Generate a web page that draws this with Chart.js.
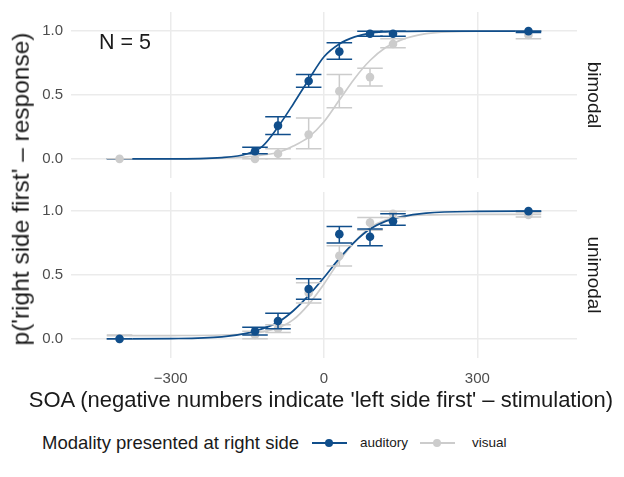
<!DOCTYPE html>
<html>
<head>
<meta charset="utf-8">
<script src="https://cdn.jsdelivr.net/npm/chart.js@4.4.1/dist/chart.umd.min.js"></script>
<style>
  body { margin: 0; background: #fff; font-family: "Liberation Sans", Arial, sans-serif; }
  #wrap { position: relative; width: 624px; height: 477px; overflow: hidden; }
  canvas { position: absolute; left: 0; }
  .lbl { position: absolute; white-space: nowrap; color: #1a1a1a; line-height: 1; }
  .key { position: absolute; height: 2px; width: 35px; }
  .dot { position: absolute; width: 8px; height: 8px; border-radius: 50%; }
</style>
</head>
<body>
<div id="wrap">
  <canvas id="top" width="624" height="186" style="top:0"></canvas>
  <canvas id="bottom" width="624" height="215" style="top:180px"></canvas>

  <div class="lbl" style="left:21px; top:189px; font-size:24.5px; transform:translate(-50%,-50%) rotate(-90deg)">p('right side first' – response)</div>
  <div class="lbl" style="left:594px; top:95px; font-size:19px; transform:translate(-50%,-50%) rotate(90deg)">bimodal</div>
  <div class="lbl" style="left:594px; top:275px; font-size:19px; transform:translate(-50%,-50%) rotate(90deg)">unimodal</div>
  <div class="lbl" style="left:99px; top:43px; font-size:21.5px; transform:translateY(-50%)">N = 5</div>
  <div class="lbl" style="left:321px; top:400px; font-size:22px; transform:translate(-50%,-50%)">SOA (negative numbers indicate 'left side first' – stimulation)</div>

  <div class="lbl" style="left:42px; top:443px; font-size:18.5px; transform:translateY(-50%)">Modality presented at right side</div>
  <div class="key" style="left:312px; top:442px; background:#104e8b"></div>
  <div class="dot" style="left:325px; top:439px; background:#104e8b"></div>
  <div class="lbl" style="left:360px; top:443px; font-size:13.5px; transform:translateY(-50%)">auditory</div>
  <div class="key" style="left:420px; top:442px; background:#cccccc"></div>
  <div class="dot" style="left:433px; top:439px; background:#cccccc"></div>
  <div class="lbl" style="left:472px; top:443px; font-size:13.5px; transform:translateY(-50%)">visual</div>
</div>

<script>
// SOA values of the measured points
const soa = [-400, -135, -90, -30, 30, 90, 135, 400];

// bimodal panel
const biAudMean = [null, 0.06, 0.26, 0.61, 0.84, 0.98, 0.98, 1.0];
const biAudLo   = [null, 0.04, 0.19, 0.56, 0.78, 0.96, 0.96, 0.99];
const biAudHi   = [null, 0.09, 0.33, 0.66, 0.91, 1.0, 1.0, 1.0];
const biVisMean = [0.0, 0.0, 0.04, 0.19, 0.53, 0.64, 0.90, 0.97];
const biVisLo   = [0.0, 0.0, 0.0, 0.08, 0.40, 0.57, 0.87, 0.94];
const biVisHi   = [0.0, 0.0, 0.08, 0.32, 0.66, 0.71, 0.94, 1.0];

// unimodal panel
const uniAudMean = [0.0, 0.06, 0.14, 0.39, 0.82, 0.80, 0.92, 1.0];
const uniAudLo   = [0.0, 0.03, 0.08, 0.31, 0.75, 0.73, 0.89, 1.0];
const uniAudHi   = [0.0, 0.09, 0.20, 0.47, 0.88, 0.86, 0.98, 1.0];
const uniVisMean = [0.0, 0.03, 0.08, 0.36, 0.65, 0.91, 0.98, 0.97];
const uniVisLo   = [0.0, 0.0, 0.05, 0.28, 0.57, 0.85, 0.95, 0.955];
const uniVisHi   = [0.03, 0.06, 0.11, 0.44, 0.73, 0.95, 1.0, 0.99];

// fitted curves
const fitSoa    = [-425, -300, -200, -150, -120, -90, -60, -30, 0, 30, 60, 90, 120, 150, 200, 300, 425];
const biAudFit  = [0, 0, 0.01, 0.04, 0.10, 0.25, 0.43, 0.62, 0.80, 0.90, 0.955, 0.985, 0.995, 0.998, 1, 1, 1];
const biVisFit  = [0, 0, 0.005, 0.015, 0.03, 0.05, 0.10, 0.17, 0.29, 0.46, 0.63, 0.77, 0.87, 0.93, 0.98, 1, 1];
const uniAudFit = [0, 0.002, 0.015, 0.045, 0.08, 0.13, 0.22, 0.34, 0.48, 0.63, 0.76, 0.86, 0.92, 0.955, 0.985, 0.998, 1];
const uniVisFit = [0.025, 0.026, 0.03, 0.04, 0.055, 0.085, 0.15, 0.27, 0.43, 0.61, 0.76, 0.87, 0.93, 0.955, 0.97, 0.975, 0.975];

const xTicks = [-300, 0, 300];
const yTicks = [0, 0.5, 1];

const blue = '#104e8b';
const grey = '#cccccc';
const family = '"Liberation Sans", Arial, sans-serif';
const capHalf = 25;

const pts = (xs, ys) => xs.map((x, i) => ({ x: x, y: ys[i] }));

const errorBars = {
    id: 'errorBars',
    beforeDatasetDraw(chart, args) {
        const ds = chart.data.datasets[args.index];
        if (!ds.errLo) return;
        const { ctx } = chart;
        const x = chart.scales.x, y = chart.scales.y;
        ctx.save();
        ctx.strokeStyle = ds.backgroundColor;
        ctx.lineWidth = 1.5;
        ds.data.forEach((p, i) => {
            if (ds.errLo[i] == null) return;
            const px = x.getPixelForValue(p.x);
            const x0 = x.getPixelForValue(p.x - capHalf);
            const x1 = x.getPixelForValue(p.x + capHalf);
            const yl = y.getPixelForValue(ds.errLo[i]);
            const yh = y.getPixelForValue(ds.errHi[i]);
            ctx.beginPath();
            ctx.moveTo(px, yl); ctx.lineTo(px, yh);
            ctx.moveTo(x0, yl); ctx.lineTo(x1, yl);
            ctx.moveTo(x0, yh); ctx.lineTo(x1, yh);
            ctx.stroke();
        });
        ctx.restore();
    }
};

function makePanel(id, showX, padBottom, xHeight, aud, vis) {
    return new Chart(document.getElementById(id), {
        type: 'scatter',
        data: {
            datasets: [
                {
                    label: 'auditory',
                    data: pts(soa, aud.mean),
                    errLo: aud.lo, errHi: aud.hi,
                    backgroundColor: blue,
                    pointRadius: 4.3,
                    pointBorderWidth: 0,
                    order: 0
                },
                {
                    label: 'visual',
                    data: pts(soa, vis.mean),
                    errLo: vis.lo, errHi: vis.hi,
                    backgroundColor: grey,
                    pointRadius: 4.3,
                    pointBorderWidth: 0,
                    order: 1
                },
                {
                    type: 'line',
                    data: pts(fitSoa, aud.fit),
                    borderColor: blue,
                    borderWidth: 1.7,
                    pointRadius: 0,
                    cubicInterpolationMode: 'monotone',
                    fill: false,
                    order: 2
                },
                {
                    type: 'line',
                    data: pts(fitSoa, vis.fit),
                    borderColor: grey,
                    borderWidth: 1.7,
                    pointRadius: 0,
                    cubicInterpolationMode: 'monotone',
                    fill: false,
                    order: 3
                }
            ]
        },
        options: {
            responsive: false,
            animation: false,
            devicePixelRatio: 1,
            layout: {
                padding: { left: 0, right: 47, top: 12, bottom: padBottom }
            },
            plugins: {
                legend: { display: false },
                tooltip: { enabled: false }
            },
            scales: {
                x: {
                    type: 'linear',
                    min: -495,
                    max: 495,
                    afterBuildTicks: s => { s.ticks = xTicks.map(v => ({ value: v })); },
                    afterFit: s => {
                        s.height = xHeight;
                        s.paddingLeft = 0;
                        s.paddingRight = 0;
                    },
                    border: { display: false },
                    grid: { color: '#ebebeb', lineWidth: 1.5, drawTicks: false },
                    ticks: {
                        display: showX,
                        padding: 12,
                        color: '#4d4d4d',
                        font: { family: family, size: 15 },
                        callback: v => v < 0 ? '\u2212' + Math.abs(v) : String(v)
                    }
                },
                y: {
                    min: -0.15,
                    max: 1.15,
                    afterBuildTicks: s => { s.ticks = yTicks.map(v => ({ value: v })); },
                    afterFit: s => {
                        s.width = 71;
                        s.paddingTop = 0;
                        s.paddingBottom = 0;
                    },
                    border: { display: false },
                    grid: { color: '#ebebeb', lineWidth: 1.5, drawTicks: false },
                    ticks: {
                        padding: 8,
                        color: '#4d4d4d',
                        font: { family: family, size: 15 },
                        callback: v => v.toFixed(1)
                    }
                }
            }
        },
        plugins: [errorBars]
    });
}

makePanel('top', false, 8, 0,
    { mean: biAudMean, lo: biAudLo, hi: biAudHi, fit: biAudFit },
    { mean: biVisMean, lo: biVisLo, hi: biVisHi, fit: biVisFit });

makePanel('bottom', true, 7, 30,
    { mean: uniAudMean, lo: uniAudLo, hi: uniAudHi, fit: uniAudFit },
    { mean: uniVisMean, lo: uniVisLo, hi: uniVisHi, fit: uniVisFit });
</script>
</body>
</html>
